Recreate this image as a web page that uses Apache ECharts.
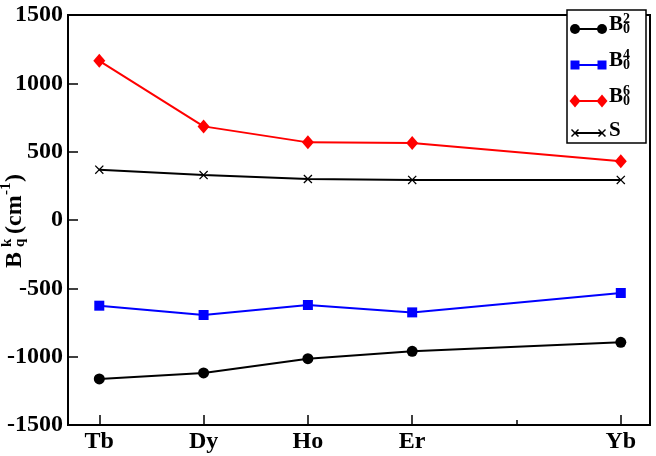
<!DOCTYPE html>
<html>
<head>
<meta charset="utf-8">
<script src="https://cdn.jsdelivr.net/npm/echarts@6/dist/echarts.min.js"></script>
<style>html,body{margin:0;padding:0;background:#fff}#c{width:656px;height:456px}</style>
</head>
<body>
<div id="c"></div>
<script>
// ---- data ----
const categories = ['Tb', 'Dy', 'Ho', 'Er', 'Yb'];
const atomicNumbers = [65, 66, 67, 68, 70];
const B20 = [-1163, -1119, -1015, -961, -895];
const B40 = [-627, -695, -622, -676, -534];
const B60 = [1165, 685, 568, 563, 429];
const S = [368, 329, 300, 293, 293];
const yTicks = [-1500, -1000, -500, 0, 500, 1000, 1500];

const FONT = '"Liberation Serif", "Times New Roman", serif';
const crossPath = 'path://M0,1 L1,0 L5,4 L9,0 L10,1 L6,5 L10,9 L9,10 L5,6 L1,10 L0,9 L4,5 Z';

function pairs(vals) { return atomicNumbers.map((z, i) => [z, vals[i]]); }
function nameOf(v) { const i = atomicNumbers.indexOf(Math.round(v)); return i >= 0 ? categories[i] : ''; }

const chart = echarts.init(document.getElementById('c'), null, { renderer: 'canvas' });

const txt = (x, y, text, size, extra) => Object.assign({
  type: 'text', x: x, y: y,
  style: { text: text, font: 'bold ' + size + 'px ' + FONT, fill: '#000', align: 'left', verticalAlign: 'middle' }
}, extra || {});

// legend graphics
const legX1 = 575, legX2 = 602, legT = 609;
const legY = [29, 65, 101, 133];
function legendEntry(y, color, kind, sup) {
  const els = [];
  els.push({ type: 'line', shape: { x1: legX1, y1: y, x2: legX2, y2: y }, style: { stroke: color, lineWidth: 2 } });
  [legX1, legX2].forEach(cx => {
    if (kind === 'circle') els.push({ type: 'circle', shape: { cx: cx, cy: y, r: 5 }, style: { fill: color } });
    if (kind === 'rect') els.push({ type: 'rect', shape: { x: cx - 4.5, y: y - 4.5, width: 9, height: 9 }, style: { fill: color } });
    if (kind === 'diamond') els.push({ type: 'polygon', shape: { points: [[cx, y - 6.5], [cx + 5.5, y], [cx, y + 6.5], [cx - 5.5, y]] }, style: { fill: color } });
    if (kind === 'cross') {
      els.push({ type: 'line', shape: { x1: cx - 3.5, y1: y - 3.5, x2: cx + 3.5, y2: y + 3.5 }, style: { stroke: color, lineWidth: 1.5 } });
      els.push({ type: 'line', shape: { x1: cx - 3.5, y1: y + 3.5, x2: cx + 3.5, y2: y - 3.5 }, style: { stroke: color, lineWidth: 1.5 } });
    }
  });
  if (sup) {
    els.push(txt(legT, y - 4, 'B', 21));
    els.push(txt(legT + 14, y - 10, sup, 14));
    els.push(txt(legT + 14, y + 0, '0', 14));
  } else {
    els.push(txt(legT, y - 2, 'S', 21));
  }
  return els;
}

const graphic = [
  { type: 'rect', shape: { x: 567, y: 10, width: 79, height: 133 }, style: { fill: '#fff', stroke: '#000', lineWidth: 1.5 }, z: 10 },
  ...legendEntry(legY[0], '#000', 'circle', '2'),
  ...legendEntry(legY[1], '#0000ff', 'rect', '4'),
  ...legendEntry(legY[2], '#ff0000', 'diamond', '6'),
  ...legendEntry(legY[3], '#000', 'cross', null),
  {
    type: 'group', x: 14.5, y: 268, rotation: Math.PI / 2,
    children: [
      txt(0, 0, 'B', 24),
      txt(21, -7.5, 'k', 15),
      txt(21, 6, 'q', 15),
      txt(34, 0, '(cm', 24),
      txt(73, -8, '-1', 15),
      txt(86, 0, ')', 24)
    ]
  }
].map(g => Object.assign({ z: 20 }, g));
graphic[0].z = 15;

chart.setOption({
  animation: false,
  backgroundColor: '#fff',
  grid: { left: 68, right: 6, top: 15, bottom: 31, show: true, borderColor: '#000', borderWidth: 2, backgroundColor: 'transparent' },
  xAxis: [{
    type: 'value', min: 64.7, max: 70.28,
    axisLine: { show: true, onZero: false, lineStyle: { color: '#000', width: 2 } },
    axisTick: { show: true, inside: true, length: 10, lineStyle: { color: '#000', width: 1.5 }, customValues: atomicNumbers },
    axisLabel: { customValues: atomicNumbers, formatter: v => nameOf(v), color: '#000', fontFamily: FONT, fontWeight: 'bold', fontSize: 24, margin: 5 },
    splitLine: { show: false }
  }, {
    type: 'value', min: 64.7, max: 70.28, position: 'bottom',
    axisLine: { show: false, onZero: false },
    axisTick: { show: true, inside: true, length: 5, lineStyle: { color: '#000', width: 1.5 }, customValues: [69] },
    axisLabel: { show: false },
    splitLine: { show: false }
  }],
  yAxis: {
    type: 'value', min: yTicks[0], max: yTicks[yTicks.length - 1], interval: 500,
    axisLine: { show: true, onZero: false, lineStyle: { color: '#000', width: 2 } },
    axisTick: { show: true, inside: true, length: 10, lineStyle: { color: '#000', width: 1.5 } },
    axisLabel: { formatter: v => String(v), color: '#000', fontFamily: FONT, fontWeight: 'bold', fontSize: 24, margin: 5 },
    splitLine: { show: false }
  },
  series: [
    { name: 'B20', type: 'line', data: pairs(B20), symbol: 'circle', symbolSize: 11, color: '#000', lineStyle: { width: 2, color: '#000' }, itemStyle: { color: '#000' } },
    { name: 'B40', type: 'line', data: pairs(B40), symbol: 'rect', symbolSize: 10, color: '#0000ff', lineStyle: { width: 2, color: '#0000ff' }, itemStyle: { color: '#0000ff' } },
    { name: 'B60', type: 'line', data: pairs(B60), symbol: 'diamond', symbolSize: [12, 14], color: '#ff0000', lineStyle: { width: 2, color: '#ff0000' }, itemStyle: { color: '#ff0000' } },
    { name: 'S', type: 'line', data: pairs(S), symbol: crossPath, symbolSize: 9, color: '#000', lineStyle: { width: 2, color: '#000' }, itemStyle: { color: '#000' } }
  ],
  graphic: graphic
});
</script>
</body>
</html>
